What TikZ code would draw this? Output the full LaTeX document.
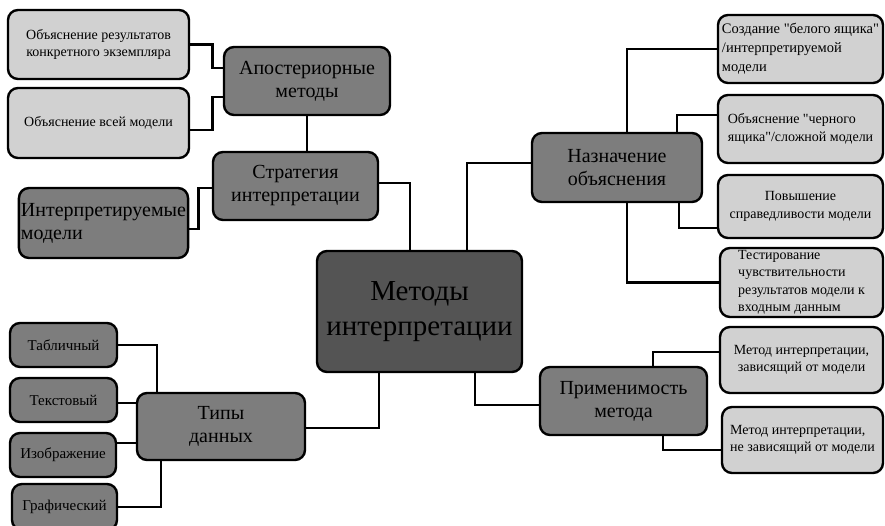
\documentclass[tikz,border=0pt]{standalone}
\usepackage{fontspec}
\setmainfont{Liberation Serif}[Ligatures=TeXOff]
\usepackage{tikz}
\usetikzlibrary{positioning,calc}
\usepackage{xcolor}

\definecolor{boxlight}{gray}{0.82}
\definecolor{boxmid}{gray}{0.49}
\definecolor{boxdark}{gray}{0.33}

\tikzset{
  block/.style={draw=black, line width=2.4pt, rounded corners=10pt, inner sep=2pt, align=center},
  leaf/.style={block, fill=boxlight, font=\fontsize{14}{17.5}\selectfont},
  branch/.style={block, fill=boxmid, font=\fontsize{20}{23}\selectfont},
  kind/.style={block, fill=boxmid, font=\fontsize{15}{18}\selectfont},
  root/.style={block, fill=boxdark, font=\fontsize{29}{35}\selectfont},
  link/.style={line width=2.7pt}
}

\begin{document}
\begin{tikzpicture}[x=1pt,y=-1pt]

\clip (0,0) rectangle (885,526);

\node[leaf, minimum width=181pt, minimum height=69pt] (r1) at (98.5,44.5) {Объяснение результатов\\конкретного экземпляра};
\node[leaf, minimum width=181pt, minimum height=70pt] (r2) at (98.5,123) {Объяснение всей модели};
\node[branch, minimum width=166pt, minimum height=68pt] (apost) at (307,81) {Апостериорные\\методы};
\node[branch, minimum width=165pt, minimum height=68pt] (strat) at (295.5,186) {Стратегия\\интерпретации};
\node[branch, minimum width=167pt, minimum height=70pt, align=left] (interp) at (103.5,223) {Интерпретируемые\\модели};

\node[root, minimum width=205pt, minimum height=121pt] (main) at (419.5,311.5) {Методы\\интерпретации};

\node[branch, minimum width=170pt, minimum height=69pt] (nazn) at (617,167.5) {Назначение\\объяснения};
\node[leaf, minimum width=165pt, minimum height=68pt, align=left, font=\fontsize{14.5}{19}\selectfont] (w1) at (800.5,49) {Создание "белого ящика"\\/интерпретируемой\\модели};
\node[leaf, minimum width=165pt, minimum height=68pt, align=left] (w2) at (800.5,129) {Объяснение "черного\\ящика"/сложной модели};
\node[leaf, minimum width=165pt, minimum height=63pt] (w3) at (800.5,206.5) {Повышение\\справедливости модели};
\node[leaf, minimum width=163pt, minimum height=69pt, align=left] (w4) at (801.5,282.5) {Тестирование\\чувствительности\\результатов модели к\\входным данным};

\node[branch, minimum width=167pt, minimum height=68pt] (prim) at (623.5,401) {Применимость\\метода};
\node[leaf, minimum width=163pt, minimum height=66pt] (d1) at (801.5,360) {Метод интерпретации,\\зависящий от модели};
\node[leaf, minimum width=161pt, minimum height=66pt, align=left] (d2) at (802.5,440) {Метод интерпретации,\\не зависящий от модели};

\node[branch, minimum width=168pt, minimum height=67pt] (types) at (221,426.5) {Типы\\данных};
\node[kind, minimum width=107pt, minimum height=44pt] (t1) at (63.5,345) {Табличный};
\node[kind, minimum width=107pt, minimum height=44pt] (t2) at (63.5,400) {Текстовый};
\node[kind, minimum width=106pt, minimum height=44pt] (t3) at (63,455) {Изображение};
\node[kind, minimum width=105pt, minimum height=46pt] (t4) at (64.5,507) {Графический};

\draw[link] (r1.east) -- ++(22,0) |- ($(apost.west)+(0,-13)$);
\draw[link] ($(r2.east)+(0,7)$) -- ++(22,0) |- ($(apost.west)+(0,16)$);
\draw[link] (apost.south) -- (apost.south |- strat.north);
\draw[link] ($(strat.west)+(0,2)$) -- ++(-13,0) |- ($(interp.east)+(0,6)$);
\draw[link] ($(strat.east)+(0,-3)$) -| ($(main.north)+(-9.5,0)$);
\draw[link] ($(nazn.west)+(0,-4.5)$) -| ($(main.north)+(47.5,0)$);

\draw[link] ($(nazn.north)+(10,0)$) |- (w1.west);
\draw[link] ($(nazn.north)+(60,0)$) |- ($(w2.west)+(0,-14)$);
\draw[link] ($(nazn.south)+(62,0)$) |- ($(w3.west)+(0,21.5)$);
\draw[link] ($(nazn.south)+(10,0)$) |- (w4.west);

\draw[link] ($(main.south)+(55.5,0)$) |- ($(prim.west)+(0,4)$);
\draw[link] ($(prim.north)+(29.5,0)$) |- ($(d1.west)+(0,-8)$);
\draw[link] ($(prim.south)+(39.5,0)$) |- ($(d2.west)+(0,10)$);

\draw[link] ($(types.east)+(0,1.5)$) -| ($(main.south)+(-40.5,0)$);
\draw[link] (t1.east) -| ($(types.north)+(-64,0)$);
\draw[link] ($(t2.east)+(0,3)$) -- ($(types.west)+(0,-23.5)$);
\draw[link] ($(t3.east)+(0,-12)$) -- ($(types.west)+(0,16.5)$);
\draw[link] (t4.east) -| ($(types.south)+(-60,0)$);

\end{tikzpicture}
\end{document}
